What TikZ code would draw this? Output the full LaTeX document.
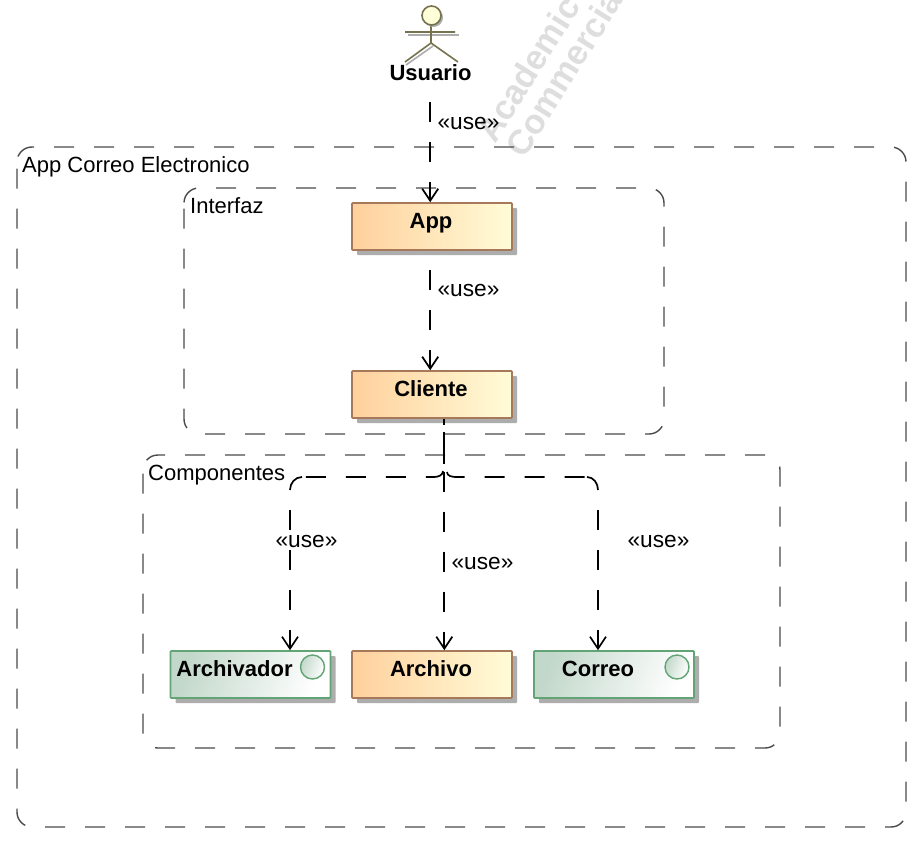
\documentclass[tikz,border=0pt]{standalone}
\usepackage{fontspec}
\setmainfont{Liberation Sans}
\usetikzlibrary{arrows.meta,shadows,calc}
\definecolor{framegray}{HTML}{4A4A4A}
\definecolor{orangeL}{HTML}{FFD09C}
\definecolor{orangeR}{HTML}{FFFCD8}
\definecolor{orangeE}{HTML}{A5795A}
\definecolor{greenL}{HTML}{C2D8CA}
\definecolor{greenE}{HTML}{62A475}
\definecolor{actorE}{HTML}{75734F}
\definecolor{actorF}{HTML}{FFFFD8}
\definecolor{shadowgray}{HTML}{ADADAD}
\definecolor{wm}{HTML}{DEDEDE}
\newcommand{\roundframe}[5]{%
  \draw[framebox,dash phase=#5] (#1,{#2+15})
    .. controls (#1,{#2+6.7}) and ({#1+6.7},#2) .. ({#1+15},#2) -- ({#3-15},#2)
    .. controls ({#3-6.7},#2) and (#3,{#2+6.7}) .. (#3,{#2+15}) -- (#3,{#4-15})
    .. controls (#3,{#4-6.7}) and ({#3-6.7},#4) .. ({#3-15},#4) -- ({#1+15},#4)
    .. controls ({#1+6.7},#4) and (#1,{#4-6.7}) .. (#1,{#4-15}) -- cycle;}
\tikzset{
  x=1pt,y=-1pt,
  every node/.style={font=\fontsize{22}{26}\selectfont},
  framebox/.style={draw=framegray,line width=1.4pt,dash pattern=on 20pt off 20pt},
  framelabel/.style={inner sep=0pt,anchor=base west},
  classbox/.style={rectangle,inner sep=0pt,rounded corners=0.8pt,line width=1.6pt,
    minimum width=160pt,minimum height=47pt,text width=160pt,align=center,
    text height=25pt,text depth=22pt,font=\fontsize{22}{26}\selectfont\bfseries,
    drop shadow={shadow xshift=5pt,shadow yshift=-5pt,fill=shadowgray,opacity=1}},
  orangebox/.style={classbox,draw=orangeE,left color=orangeL,right color=orangeR},
  greenbox/.style={classbox,draw=greenE,shading=axis,bottom color=white,top color=greenL,shading angle=70},
  iconcircle/.style={circle,draw=greenE,line width=1.4pt,minimum size=24pt,inner sep=0pt,shading=axis,top color=greenL,bottom color=white,shading angle=70},
  usebase/.style={draw=black,line width=1.7pt},
  usedash/.style={usebase,dash pattern=on 20pt off 20pt},
  usearrow/.style={usedash,-{Straight Barb[length=12pt,width=16pt,line width=1.7pt]}},
  uselabel/.style={inner sep=0pt,font=\fontsize{22.7}{26}\selectfont},
  actorline/.style={draw=actorE,line width=1.6pt},
  actorshadow/.style={draw=shadowgray,line width=1.6pt},
  watermark/.style={text=wm,font=\fontsize{34.5}{38}\selectfont\bfseries,inner sep=0pt,rotate=58,anchor=base west}
}
\begin{document}
\begin{tikzpicture}
\useasboundingbox[fill=white] (0,0) rectangle (912,848);
% watermark
\node[watermark] (wma) at (495,145) {Academic};
\node[watermark] (wmb) at (524,160) {Commercial};
% frames (clockwise from the top-left corner)
\roundframe{17}{147}{906}{827}{34.4pt}
\roundframe{184}{188}{664}{434}{39.4pt}
\roundframe{143}{455}{780}{748}{29.4pt}
\node[framelabel] (outerl) at (22,172) {App Correo Electronico};
\node[framelabel] (interfazl) at (190,213) {Interfaz};
\node[framelabel] (compl) at (148,480) {Componentes};
% actor
\coordinate (ahead) at (431.5,15.5);
\draw[actorshadow] (408,35) -- (459,35);
\draw[actorshadow] (433,46) -- (406,65);
\draw[actorline] (431,25) -- (431,43) (405,32) -- (455,32) (405,62) -- (431,43) -- (458,62);
\node[circle,draw=actorE,fill=actorF,line width=1.6pt,minimum size=19pt,inner sep=0pt,
  drop shadow={shadow xshift=2pt,shadow yshift=-2pt,fill=shadowgray,opacity=1}] (head) at (ahead) {};
\node[font=\fontsize{22}{26}\selectfont\bfseries,inner sep=0pt,anchor=base] (usuario) at (430.5,81) {Usuario};
% boxes
\node[orangebox] (app) at (432,226.5) {\hspace*{-2pt}App};
\node[orangebox] (cliente) at (432,394.5) {\hspace*{-2pt}Cliente};
\node[orangebox] (archivo) at (432,674.5) {\hspace*{-2pt}Archivo};
\node[greenbox] (archivador) at (250.5,674.5) {\hspace*{-32pt}Archivador};
\node[greenbox] (correo) at (614,674.5) {\hspace*{-32pt}Correo};
\node[iconcircle] (ic1) at (312.5,667) {};
\node[iconcircle] (ic2) at (677,667) {};
% connectors
\coordinate (ax) at (430.2,0);
\coordinate (tx) at (444.3,0);
\draw[usearrow] ([yshift=-21pt]usuario.base -| ax) -- (app.north -| ax);
\draw[usearrow] ([yshift=-19pt]app.south -| ax) -- (cliente.north -| ax);
% trunk below Cliente, shared by the bent connectors
\coordinate (trunkend) at (444.3,464);
\draw[usedash,dash phase=14pt] (cliente.south -| tx) -- (trunkend);
\draw[usearrow,dash phase=27pt] (cliente.south -| tx) -- (archivo.north -| tx);
% left branch
\coordinate (bl) at (443,471);
\coordinate (lh) at (302,477);
\coordinate (lv) at (290,490);
\draw[usedash] (bl) to[out=-90,in=0] (434,477) -- (lh);
\draw[usebase] (lh) to[out=180,in=90] (lv);
\draw[usearrow,dash phase=20pt] (lv) -- (archivador.north -| lv);
% right branch
\coordinate (br) at (447,472);
\coordinate (rh) at (587,477);
\coordinate (rv) at (598,490);
\draw[usedash] (br) to[out=-90,in=180] (456,477) -- (rh);
\draw[usebase] (rh) to[out=0,in=90] (rv);
\draw[usearrow,dash phase=20pt] (rv) -- (correo.north -| rv);
% labels
\node[uselabel] (u1) at (468.5,124) {«use»};
\node[uselabel] (u2) at (468.5,291) {«use»};
\node[uselabel] (u3) at (306.5,541) {«use»};
\node[uselabel] (u4) at (482.5,563) {«use»};
\node[uselabel] (u5) at (658.5,541) {«use»};
\end{tikzpicture}
\end{document}
